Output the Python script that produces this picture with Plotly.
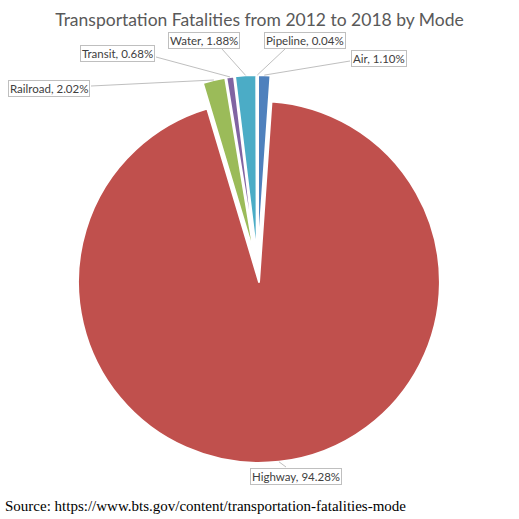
import math
import plotly.graph_objects as go

# ---- data ----
modes = ["Air", "Highway", "Railroad", "Transit", "Water", "Pipeline"]
shares = [1.10, 94.28, 2.02, 0.68, 1.88, 0.04]
colors = ["#4F81BD", "#C0504D", "#9BBB59", "#8064A2", "#4BACC6", "#F79646"]
title_text = "Transportation Fatalities from 2012 to 2018 by Mode"
source_text = "Source: https://www.bts.gov/content/transportation-fatalities-mode"

# ---- layout settings ----
W = H = 519
PULL = 0.072
dom_x = [0.1225, 0.870]
dom_y = [0.1079, 0.8555]

# label box centres (pixels) and leader-line anchor on the box (pixels)
label_pos = {
    "Railroad": ((49, 88.5), (91, 86)),
    "Transit": ((117, 53), (156, 57)),
    "Water": ((203.5, 40), (222, 49)),
    "Pipeline": ((304.5, 40), (285, 49)),
    "Air": ((378.5, 58), (350, 61)),
    "Highway": ((295.5, 476), (286, 467)),
}

fig = go.Figure(go.Pie(
    labels=modes, values=shares, sort=False, direction="clockwise", rotation=0,
    marker=dict(colors=colors, line=dict(color="white", width=2)),
    pull=[PULL] * len(modes), textinfo="none", hoverinfo="label+percent",
    domain=dict(x=dom_x, y=dom_y), showlegend=False,
))

# geometry of pie (same as plotly's layout rules)
wpx = W * (dom_x[1] - dom_x[0])
hpx = H * (dom_y[1] - dom_y[0])
R = min(wpx, hpx) / 2 / (1 + PULL)
cx = W * (dom_x[0] + dom_x[1]) / 2
cy = H * (1 - (dom_y[0] + dom_y[1]) / 2)

total = sum(shares)
annotations = []
shapes = []
start = 0.0
for m, v in zip(modes, shares):
    ang = v / total * 360
    mid = math.radians(start + ang / 2)
    start += ang
    dx, dy = math.sin(mid), -math.cos(mid)
    px = cx + dx * R * (1 + PULL)
    py = cy + dy * R * (1 + PULL)
    (bx, by), (ax, ay) = label_pos[m]
    shapes.append(dict(type="line", xref="paper", yref="paper",
                       x0=ax / W, y0=1 - ay / H, x1=px / W, y1=1 - py / H,
                       line=dict(color="#BFBFBF", width=1)))
    annotations.append(dict(
        text=f"{m}, {v:.2f}%", x=bx / W, y=1 - by / H, xref="paper", yref="paper",
        showarrow=False, xanchor="center", yanchor="middle",
        font=dict(family="Lato", size=11.5, color="#404040"),
        bordercolor="#BFBFBF", borderwidth=1, borderpad=1, bgcolor="white",
    ))

annotations.append(dict(
    text=source_text, x=3 / W, y=1 - 506 / H, xref="paper", yref="paper",
    showarrow=False, xanchor="left", yanchor="middle",
    font=dict(family="Liberation Serif", size=15, color="black"),
))

fig.update_layout(
    width=W, height=H, margin=dict(l=0, r=0, t=0, b=0),
    paper_bgcolor="white", plot_bgcolor="white",
    title=dict(text=title_text, x=0.5, xanchor="center", y=1 - 20 / H, yanchor="middle",
               font=dict(family="Lato", size=17.5, color="#595959")),
    annotations=annotations, shapes=shapes,
)

fig.write_html("out.html")
